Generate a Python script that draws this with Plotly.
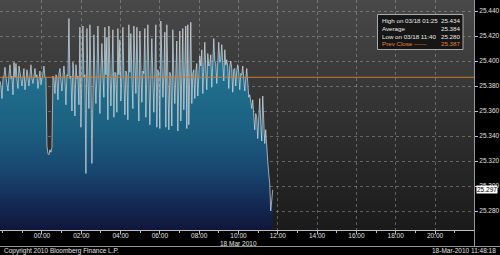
import plotly.graph_objects as go
import pandas as pd

# ---------------- data ----------------
start_time = "2010-03-17 21:51:50"
step_seconds = 183

prices_overnight = [
    25.384, 25.380, 25.370, 25.386, 25.388, 25.395, 25.387, 25.383, 25.376, 25.389,
    25.397, 25.386, 25.388, 25.373, 25.399, 25.387, 25.398, 25.385, 25.378, 25.396,
    25.388, 25.386, 25.380, 25.390, 25.394, 25.377, 25.388, 25.393, 25.387, 25.380,
    25.389, 25.397, 25.386, 25.382, 25.388, 25.394, 25.387, 25.389, 25.378, 25.388,
    25.392, 25.381, 25.388, 25.390, 25.396, 25.387, 25.386,
]
prices_dip = [25.332, 25.326, 25.325, 25.329, 25.327, 25.331]
prices_early = [
    25.388, 25.386, 25.374, 25.389, 25.387, 25.369, 25.390, 25.394, 25.386, 25.376,
    25.388, 25.396, 25.387, 25.365, 25.389, 25.388, 25.434, 25.386, 25.388, 25.360,
    25.399, 25.387, 25.356, 25.397, 25.386, 25.388, 25.365,
]
prices_spiky = [
    25.427, 25.347, 25.388, 25.428, 25.387, 25.389, 25.310, 25.426, 25.388, 25.362,
    25.429, 25.389, 25.318, 25.390, 25.421, 25.388, 25.366, 25.389, 25.428, 25.391,
    25.358, 25.392, 25.414, 25.390, 25.371, 25.427, 25.389, 25.419, 25.353, 25.428,
    25.390, 25.364, 25.388, 25.425, 25.355, 25.391, 25.390, 25.359, 25.426, 25.389,
    25.417, 25.368, 25.388, 25.427, 25.390, 25.357, 25.392, 25.389, 25.353, 25.429,
    25.391, 25.422, 25.388, 25.362, 25.428, 25.390, 25.374, 25.427, 25.389, 25.352,
    25.424, 25.388, 25.367, 25.392, 25.390, 25.426, 25.355, 25.389, 25.429, 25.391,
    25.349, 25.389, 25.418, 25.388, 25.359, 25.390, 25.429, 25.347, 25.393, 25.389,
    25.346, 25.432, 25.390, 25.371, 25.388, 25.423, 25.347, 25.429, 25.389, 25.345,
    25.391, 25.388, 25.348, 25.425, 25.390, 25.366, 25.389, 25.416, 25.344, 25.388,
    25.424, 25.352, 25.389, 25.426, 25.361, 25.390,
]
prices_transition = [
    25.428, 25.346, 25.429, 25.349, 25.391, 25.431, 25.366, 25.390, 25.393, 25.370,
    25.392, 25.398, 25.372, 25.391, 25.404,
]
prices_morning = [
    25.396, 25.409, 25.374, 25.395, 25.415, 25.394, 25.377, 25.406, 25.396, 25.398,
    25.405, 25.379, 25.399, 25.418, 25.400, 25.398, 25.382, 25.401, 25.415, 25.399,
    25.401, 25.413, 25.398, 25.384, 25.409, 25.397, 25.401, 25.395, 25.378, 25.396,
    25.400, 25.394, 25.375, 25.393, 25.394, 25.380, 25.392, 25.397, 25.391, 25.377,
    25.390, 25.389, 25.396, 25.388, 25.376, 25.386, 25.394, 25.383, 25.371, 25.373,
    25.366, 25.362, 25.369, 25.360, 25.345, 25.358, 25.355, 25.338, 25.352, 25.370,
    25.350, 25.336, 25.372, 25.349, 25.334, 25.345, 25.325, 25.320, 25.310, 25.302,
    25.280, 25.293, 25.297,
]

y_tick_values = [25.280, 25.300, 25.320, 25.340, 25.360, 25.380, 25.400, 25.420, 25.440]
x_tick_values = ["2010-03-18 00:00", "2010-03-18 02:00", "2010-03-18 04:00",
                 "2010-03-18 06:00", "2010-03-18 08:00", "2010-03-18 10:00",
                 "2010-03-18 12:00", "2010-03-18 14:00", "2010-03-18 16:00",
                 "2010-03-18 18:00", "2010-03-18 20:00"]
x_tick_labels = ["00:00", "02:00", "04:00", "06:00", "08:00", "10:00",
                 "12:00", "14:00", "16:00", "18:00", "20:00"]

prev_close = 25.387
last_price = 25.297
legend_labels = ["High on 03/18 01:25", "Average", "Low on 03/18 11:40", "Prev Close \u2014\u2014"]
legend_values = ["25.434", "25.384", "25.280", "25.387"]
date_label = "18 Mar 2010"
copyright_text = "Copyright 2010 Bloomberg Finance L.P."
stamp_text = "18-Mar-2010 11:48:18"

prices = (prices_overnight + prices_dip + prices_early + prices_spiky
          + prices_transition + prices_morning)
times = pd.date_range(start_time, periods=len(prices), freq=f"{step_seconds}s")

# ---------------- layout geometry ----------------
W, H = 500, 255
ML, MR, MT, MB = 0, 26, 0, 25
PW, PH = W - ML - MR, H - MT - MB
Y_MIN, Y_MAX = 25.2648, 25.4488
X_RANGE = ["2010-03-17 21:51:50", "2010-03-18 21:59:00"]
FONT = "Liberation Sans, Arial, sans-serif"
FS = 6.5


def px_x(p):
    return (p - ML) / PW


def px_y(p):
    return 1 - (p - MT) / PH


fig = go.Figure()

fig.add_trace(go.Scatter(
    x=times, y=prices, mode="lines",
    line=dict(color="rgba(225,232,238,0.72)", width=0.9),
    fill="tozeroy",
    fillgradient=dict(
        type="vertical", start=Y_MIN, stop=25.40,
        colorscale=[[0, "rgb(16,22,60)"], [0.18, "rgb(20,45,88)"],
                    [0.36, "rgb(24,72,112)"], [0.6, "rgb(28,96,128)"],
                    [1, "rgb(34,116,146)"]],
    ),
    hoverinfo="skip", showlegend=False,
))

shapes = []
# plot background gradient
n_bands = 46
top_c, bot_c = (72, 72, 72), (27, 27, 27)
for k in range(n_bands):
    f = k / (n_bands - 1)
    c = tuple(round(top_c[j] + (bot_c[j] - top_c[j]) * f) for j in range(3))
    shapes.append(dict(type="rect", xref="paper", yref="paper",
                       x0=0, x1=1, y0=1 - (k + 1) / n_bands, y1=1 - k / n_bands,
                       fillcolor=f"rgb{c}", line=dict(width=0), layer="below"))
# prev close line
shapes.append(dict(type="line", xref="paper", yref="y", x0=0, x1=1,
                   y0=prev_close, y1=prev_close,
                   line=dict(color="rgb(205,125,50)", width=1), layer="above"))
# separator line at bottom
shapes.append(dict(type="line", xref="paper", yref="paper", x0=px_x(0), x1=px_x(500),
                   y0=px_y(246.5), y1=px_y(246.5),
                   line=dict(color="rgb(150,150,150)", width=1)))
shapes.append(dict(type="line", xref="paper", yref="paper", x0=px_x(474.5), x1=px_x(474.5),
                   y0=px_y(230), y1=px_y(246.5),
                   line=dict(color="rgb(150,150,150)", width=1)))
# legend box
shapes.append(dict(type="rect", xref="paper", yref="paper",
                   x0=px_x(377.5), x1=px_x(463), y0=px_y(49.5), y1=px_y(14.5),
                   fillcolor="rgb(22,22,22)", line=dict(color="rgb(170,170,170)", width=1),
                   layer="above"))

annotations = []
row_y = [20.8, 28.5, 36.2, 43.9]
for k, (lab, val) in enumerate(zip(legend_labels, legend_values)):
    col = "rgb(225,130,50)" if k == 3 else "rgb(235,235,235)"
    annotations.append(dict(xref="paper", yref="paper", x=px_x(380), y=px_y(row_y[k]),
                            text=lab, showarrow=False, xanchor="left", yanchor="middle",
                            font=dict(family=FONT, size=6.2, color=col)))
    annotations.append(dict(xref="paper", yref="paper", x=px_x(461.5), y=px_y(row_y[k]),
                            text=val, showarrow=False, xanchor="right", yanchor="middle",
                            font=dict(family=FONT, size=6.2, color=col)))

annotations.append(dict(xref="x", yref="paper", x="2010-03-18 10:00", y=px_y(243.5),
                        text=date_label, showarrow=False, xanchor="center", yanchor="middle",
                        font=dict(family=FONT, size=FS, color="rgb(225,225,225)")))
annotations.append(dict(xref="paper", yref="paper", x=px_x(2), y=px_y(251),
                        text=copyright_text, showarrow=False, xanchor="left", yanchor="middle",
                        font=dict(family=FONT, size=FS, color="rgb(225,225,225)")))
annotations.append(dict(xref="paper", yref="paper", x=px_x(498), y=px_y(251),
                        text=stamp_text, showarrow=False, xanchor="right", yanchor="middle",
                        font=dict(family=FONT, size=FS, color="rgb(225,225,225)")))
annotations.append(dict(xref="paper", yref="y", x=px_x(476), y=last_price,
                        text=f"{last_price:.3f}", showarrow=False, xanchor="left",
                        yanchor="middle", bgcolor="white", borderpad=0,
                        font=dict(family=FONT, size=FS, color="black")))

fig.update_layout(
    width=W, height=H,
    margin=dict(l=ML, r=MR, t=MT, b=MB, pad=0),
    paper_bgcolor="black", plot_bgcolor="rgb(40,40,40)",
    shapes=shapes, annotations=annotations,
    xaxis=dict(
        type="date", range=X_RANGE,
        tickvals=x_tick_values, ticktext=x_tick_labels,
        ticks="outside", ticklen=3, tickcolor="rgb(190,190,190)",
        minor=dict(dtick=3600000, tick0="2010-03-18 00:00", ticks="outside",
                   ticklen=2, tickcolor="rgb(190,190,190)", showgrid=False),
        showgrid=True, gridcolor="rgba(175,175,175,0.45)", griddash="dot", gridwidth=1,
        showline=True, linecolor="rgb(190,190,190)", linewidth=1,
        zeroline=False, tickfont=dict(family=FONT, size=FS, color="rgb(225,225,225)"),
        ticklabelstandoff=-4,
    ),
    yaxis=dict(
        side="right", range=[Y_MIN, Y_MAX],
        tickvals=y_tick_values, ticktext=[f"{v:.3f}" for v in y_tick_values],
        ticks="outside", ticklen=3, tickcolor="rgb(190,190,190)",
        showgrid=True, gridcolor="rgba(175,175,175,0.45)", griddash="dot", gridwidth=1,
        showline=True, linecolor="rgb(150,150,150)", linewidth=1,
        zeroline=False, tickfont=dict(family=FONT, size=FS, color="rgb(225,225,225)"),
        ticklabelstandoff=0,
    ),
    showlegend=False,
)

fig.write_html("out.html")
